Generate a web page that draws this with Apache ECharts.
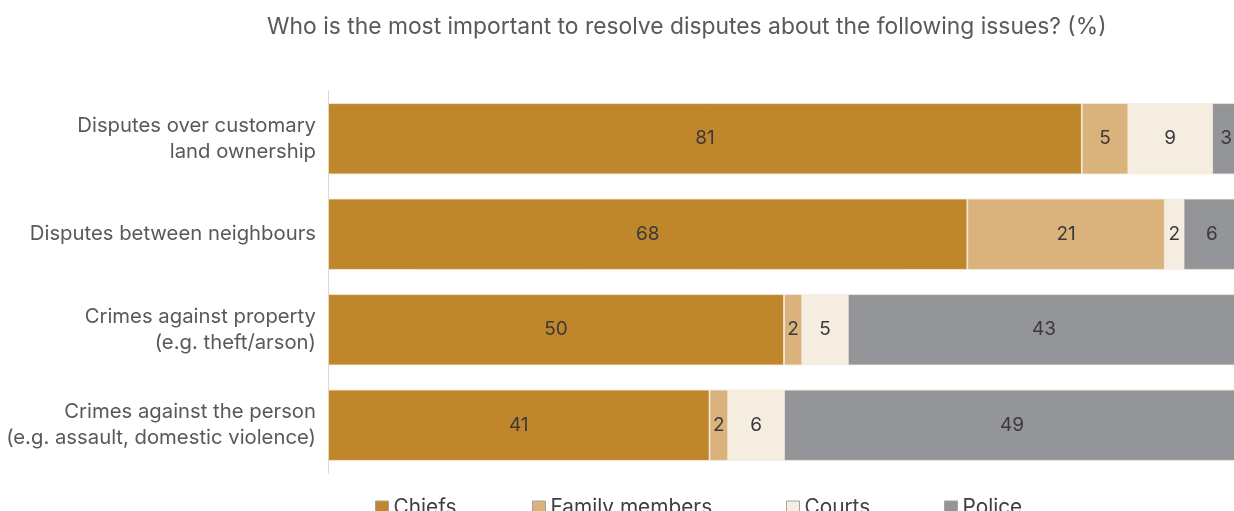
<!DOCTYPE html>
<html>
<head>
<meta charset="utf-8">
<script src="https://cdn.jsdelivr.net/npm/echarts@6/dist/echarts.min.js"></script>
<style>
  html, body { margin: 0; padding: 0; background: #fff; }
  #chart { width: 1234px; height: 511px; }
</style>
</head>
<body>
<div id="chart"></div>
<script>
// Survey responses (%) per issue, top to bottom
const categories = [
  'Disputes over customary\nland ownership',
  'Disputes between neighbours',
  'Crimes against property\n(e.g. theft/arson)',
  'Crimes against the person\n(e.g. assault, domestic violence)'
];
const seriesNames = ['Chiefs', 'Family members', 'Courts', 'Police'];
const chiefs = [81, 68, 50, 41];
const familyMembers = [5, 21, 2, 2];
const courts = [9, 2, 5, 6];
const police = [3, 6, 43, 49];

const seriesValues = [chiefs, familyMembers, courts, police];
const colors = ['#C0862C', '#D9B27C', '#F5EEE0', '#939598'];
const FONT = 'Inter, "Open Sans", sans-serif';

// Each bar spans the full row; segments are shares of that row's total
const rowTotals = categories.map((_, i) =>
  seriesValues.reduce((s, arr) => s + arr[i], 0));

// The plot runs a few pixels past the right edge of the canvas,
// so the visible part of the axis stops just short of 100%.
const PLOT_LEFT = 328;
const PLOT_WIDTH = 912;
const CANVAS_WIDTH = 1234;
const visibleMax = 100 * (CANVAS_WIDTH - PLOT_LEFT) / PLOT_WIDTH;

const series = seriesNames.map((name, k) => ({
  name,
  type: 'bar',
  stack: 'total',
  clip: false,
  barCategoryGap: '25.5%',
  itemStyle: { color: colors[k], borderColor: '#F4EBDD', borderWidth: 0.8 },
  label: {
    show: true,
    position: 'inside',
    color: '#3A3A3A',
    fontFamily: FONT,
    fontSize: 19,
    formatter: p => String(seriesValues[k][p.dataIndex])
  },
  data: seriesValues[k].map((v, i) => v / rowTotals[i] * 100)
}));

// One legend block per series so each key sits at its own spot
const legendLefts = [370, 527, 781, 939];
const legends = seriesNames.map((name, k) => ({
  data: [name],
  left: legendLefts[k],
  top: 492,
  itemWidth: 13,
  itemHeight: 13,
  icon: 'rect',
  selectedMode: false,
  itemStyle: { borderColor: '#A3A3A3', borderWidth: 1 },
  textStyle: { color: '#404040', fontFamily: FONT, fontSize: 20.8, padding: [0, 0, 0, 0] }
}));

const chart = echarts.init(document.getElementById('chart'), null, { renderer: 'canvas' });
chart.setOption({
  animation: false,
  backgroundColor: '#ffffff',
  title: {
    text: 'Who is the most important to resolve disputes about the following issues? (%)',
    left: 262,
    top: 11,
    textStyle: { color: '#595959', fontFamily: FONT, fontSize: 22.85, fontWeight: 'normal' }
  },
  legend: legends,
  grid: { left: PLOT_LEFT, right: 0, top: 91, height: 382, containLabel: false },
  xAxis: {
    type: 'value',
    min: 0,
    max: visibleMax,
    show: false
  },
  yAxis: {
    type: 'category',
    inverse: true,
    data: categories,
    axisLine: { show: true, lineStyle: { color: '#D9D9D9', width: 1 } },
    axisTick: { show: false },
    axisLabel: {
      color: '#595959',
      fontFamily: FONT,
      fontSize: 20.3,
      lineHeight: 26,
      align: 'right',
      margin: 12
    }
  },
  series
});
</script>
</body>
</html>
